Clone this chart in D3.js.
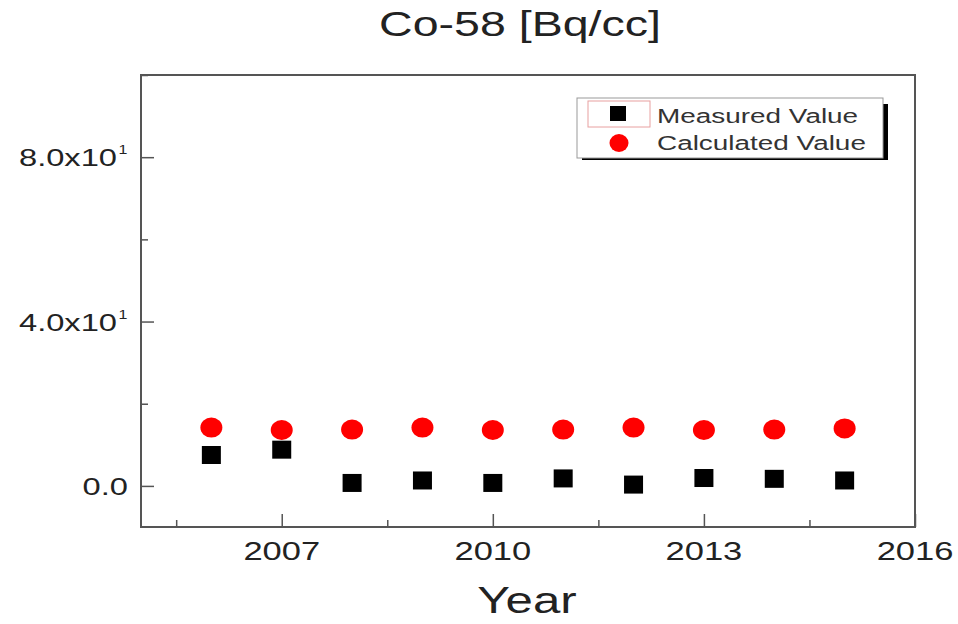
<!DOCTYPE html>
<html>
<head>
<meta charset="utf-8">
<script src="https://cdn.jsdelivr.net/npm/d3@7"></script>
<style>
  body { margin: 0; background: #fff; }
  text { font-family: "Liberation Sans", Arial, sans-serif; fill: #222; }
</style>
</head>
<body>
<script>
  // chart data
  const years = [2006, 2007, 2008, 2009, 2010, 2011, 2012, 2013, 2014, 2015];
  const measured = [7.4, 8.7, 0.6, 1.2, 0.6, 1.7, 0.2, 1.8, 1.6, 1.2];
  const calculated = [14.2, 13.6, 13.7, 14.2, 13.6, 13.7, 14.2, 13.6, 13.7, 14.0];
  const xMajor = [2007, 2010, 2013, 2016];
  const xMinor = [2005.5, 2008.5, 2011.5, 2014.5];
  const yMajor = [0, 40, 80];
  const yMinor = [20, 60, 100];
  const yLabels = { 0: '0.0', 40: '4.0x10', 80: '8.0x10' };

  const W = 958, H = 624;
  const margin = { top: 75, right: 43, bottom: 97, left: 141 };
  const w = W - margin.left - margin.right;
  const h = H - margin.top - margin.bottom;
  const SX = 1.33; // the picture's text is stretched sideways

  const svg = d3.select('body').append('svg').attr('width', W).attr('height', H);
  const g = svg.append('g').attr('transform', `translate(${margin.left},${margin.top})`);

  const x = d3.scaleLinear().domain([2005, 2016]).range([0, w]);
  const y = d3.scaleLinear().domain([-10, 100]).range([h, 0]);

  // stretched text placed at (px, py)
  function label(parent, px, py, size, anchor, str, sx) {
    return parent.append('text')
      .attr('transform', `translate(${px},${py}) scale(${sx || SX},1)`)
      .attr('text-anchor', anchor)
      .attr('font-size', size)
      .text(str);
  }

  // frame
  g.append('rect').attr('width', w).attr('height', h)
    .attr('fill', 'none').attr('stroke', '#555').attr('stroke-width', 2);

  // x axis (inward ticks)
  const xAx = g.append('g').attr('transform', `translate(0,${h})`)
    .call(d3.axisBottom(x).tickValues(xMajor).tickSize(-13).tickFormat(''));
  xAx.select('.domain').remove();
  xAx.selectAll('line').attr('stroke', '#555').attr('stroke-width', 1.5);
  g.append('g').attr('transform', `translate(0,${h})`)
    .call(d3.axisBottom(x).tickValues(xMinor).tickSize(-7).tickFormat(''))
    .call(a => a.select('.domain').remove())
    .selectAll('line').attr('stroke', '#555').attr('stroke-width', 1.5);
  xMajor.forEach(d => label(g, x(d), h + 33, 25, 'middle', d, 1.38));

  // y axis (inward ticks)
  const yAx = g.append('g')
    .call(d3.axisLeft(y).tickValues(yMajor).tickSize(-13).tickFormat(''));
  yAx.select('.domain').remove();
  yAx.selectAll('line').attr('stroke', '#555').attr('stroke-width', 1.5);
  g.append('g')
    .call(d3.axisLeft(y).tickValues(yMinor).tickSize(-7).tickFormat(''))
    .call(a => a.select('.domain').remove())
    .selectAll('line').attr('stroke', '#555').attr('stroke-width', 1.5);

  yMajor.forEach(d => {
    label(g, d === 0 ? -13 : -24, y(d) + 9, 23, 'end', yLabels[d], 1.42);
    if (d !== 0) label(g, -18, y(d) - 3, 12, 'middle', '1');
  });

  // points
  g.selectAll('.calc').data(years).enter().append('ellipse')
    .attr('class', 'calc')
    .attr('cx', d => x(d))
    .attr('cy', (d, i) => y(calculated[i]))
    .attr('rx', 11).attr('ry', 10)
    .attr('fill', '#f00');

  const sq = 19;
  g.selectAll('.meas').data(years).enter().append('rect')
    .attr('class', 'meas')
    .attr('x', d => x(d) - sq / 2)
    .attr('y', (d, i) => y(measured[i]) - sq / 2)
    .attr('width', sq).attr('height', sq - 1)
    .attr('fill', '#000');

  // legend
  const lg = svg.append('g').attr('transform', 'translate(577,98)');
  lg.append('rect').attr('x', 5).attr('y', 6).attr('width', 306).attr('height', 56).attr('fill', '#000');
  lg.append('rect').attr('width', 306).attr('height', 60)
    .attr('fill', '#fff').attr('stroke', '#999').attr('stroke-width', 1);
  lg.append('rect').attr('x', 11).attr('y', 3).attr('width', 62).attr('height', 26)
    .attr('fill', 'none').attr('stroke', '#e8a0a0').attr('stroke-width', 1);
  lg.append('rect').attr('x', 33).attr('y', 8).attr('width', 16).attr('height', 15).attr('fill', '#000');
  lg.append('ellipse').attr('cx', 42).attr('cy', 45).attr('rx', 9.5).attr('ry', 9).attr('fill', '#f00');
  label(lg, 80, 25, 21, 'start', 'Measured Value').style('fill', '#333');
  label(lg, 80, 52, 21, 'start', 'Calculated Value').style('fill', '#333');

  // title and axis label
  label(svg, 520, 36, 35, 'middle', 'Co-58 [Bq/cc]');
  label(svg, 527, 613, 37, 'middle', 'Year');
</script>
</body>
</html>
